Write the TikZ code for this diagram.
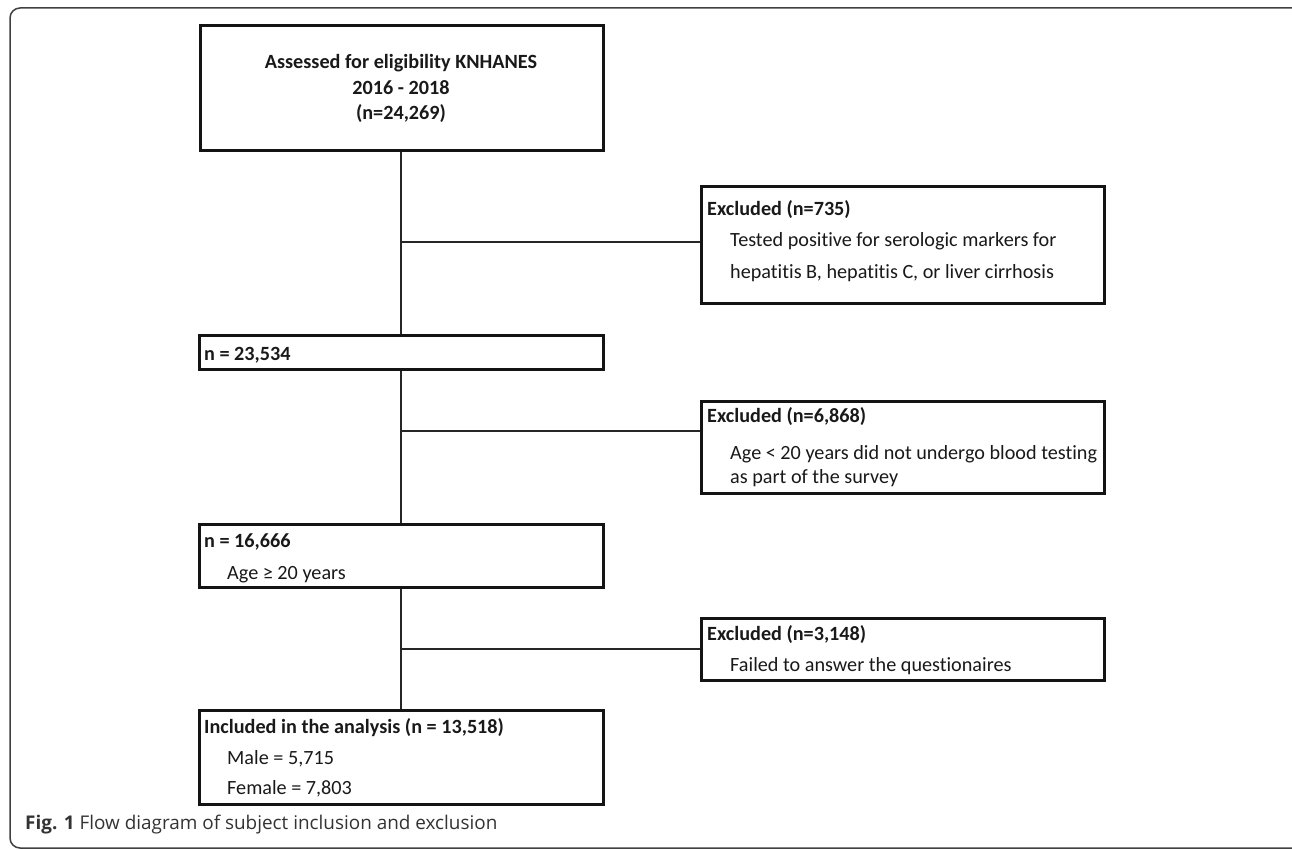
\documentclass[tikz,border=0pt]{standalone}
\usepackage{fontspec}
\setmainfont[Ligatures={NoCommon,TeX}]{Carlito}
\newfontfamily\capfont{Open Sans}
\begin{document}
\begin{tikzpicture}[x=1pt,y=-1pt,
  box/.style={draw=black!92,line width=3pt,rectangle,inner sep=0pt,fill=none},
  conn/.style={draw=black!85,line width=2pt},
  txt/.style={anchor=base west,inner sep=0pt,font=\fontsize{20.2}{24}\selectfont,text=black!90},
  btxt/.style={txt,font=\fontsize{20.2}{24}\selectfont\bfseries},
  ctxt/.style={anchor=base,inner sep=0pt,font=\fontsize{20.2}{24}\selectfont\bfseries,text=black!90}]
\useasboundingbox (0,0) rectangle (1292,850);
\clip (0,0) rectangle (1292,850);
% outer frame
\draw[black!75,line width=1.5pt,rounded corners=10pt] (10,8) rectangle (1305,848);
% boxes
\node[box,minimum width=403pt,minimum height=125pt] (top) at (401.5,88.5) {};
\node[box,minimum width=403pt,minimum height=116pt] (ex1) at (902.5,245) {};
\node[box,minimum width=404pt,minimum height=34pt] (n1) at (401,352) {};
\node[box,minimum width=403pt,minimum height=92pt] (ex2) at (902.5,447) {};
\node[box,minimum width=404pt,minimum height=63pt] (n2) at (401,555.5) {};
\node[box,minimum width=403pt,minimum height=62pt] (ex3) at (902.5,649) {};
\node[box,minimum width=404pt,minimum height=94pt] (fin) at (401,757) {};
% connectors
\coordinate (b1) at (401,242);
\coordinate (b2) at (401,431);
\coordinate (b3) at (401,649);
\draw[conn] (top.south -| b1) -- (n1.north -| b1);
\draw[conn] (b1) -- (b1 -| ex1.west);
\draw[conn] (n1.south -| b2) -- (n2.north -| b2);
\draw[conn] (b2) -- (b2 -| ex2.west);
\draw[conn] (n2.south -| b3) -- (fin.north -| b3);
\draw[conn] (b3) -- (b3 -| ex3.west);
% texts
\node[ctxt] (t1) at (401,69) {Assessed for eligibility KNHANES};
\node[ctxt] (t2) at (401,95) {2016 - 2018};
\node[ctxt] (t3) at (401,120) {(n=24,269)};
\node[btxt] (e1a) at (707,216) {Excluded (n=735)};
\node[txt] (e1b) at (730,247) {Tested positive for serologic markers for};
\node[txt] (e1c) at (730,278) {hepatitis B, hepatitis C, or liver cirrhosis};
\node[btxt] (n1a) at (204,360) {n = 23,534};
\node[btxt] (e2a) at (707,422) {Excluded (n=6,868)};
\node[txt] (e2b) at (730,459) {Age < 20 years did not undergo blood testing};
\node[txt] (e2c) at (730,483) {as part of the survey};
\node[btxt] (n2a) at (204,547) {n = 16,666};
\node[txt] (n2b) at (227,579) {Age ≥ 20 years};
\node[btxt] (e3a) at (707,640) {Excluded (n=3,148)};
\node[txt] (e3b) at (730,671) {Failed to answer the questionaires};
\node[btxt] (fa) at (204,733) {Included in the analysis (n = 13,518)};
\node[txt] (fb) at (227,764) {Male = 5,715};
\node[txt] (fc) at (227,794) {Female = 7,803};
\node[anchor=base west,inner sep=0pt,font=\capfont\fontsize{18.9}{22}\selectfont,text=black!80] (cap) at (25,829) {\textbf{Fig. 1} Flow diagram of subject inclusion and exclusion};
\end{tikzpicture}
\end{document}
